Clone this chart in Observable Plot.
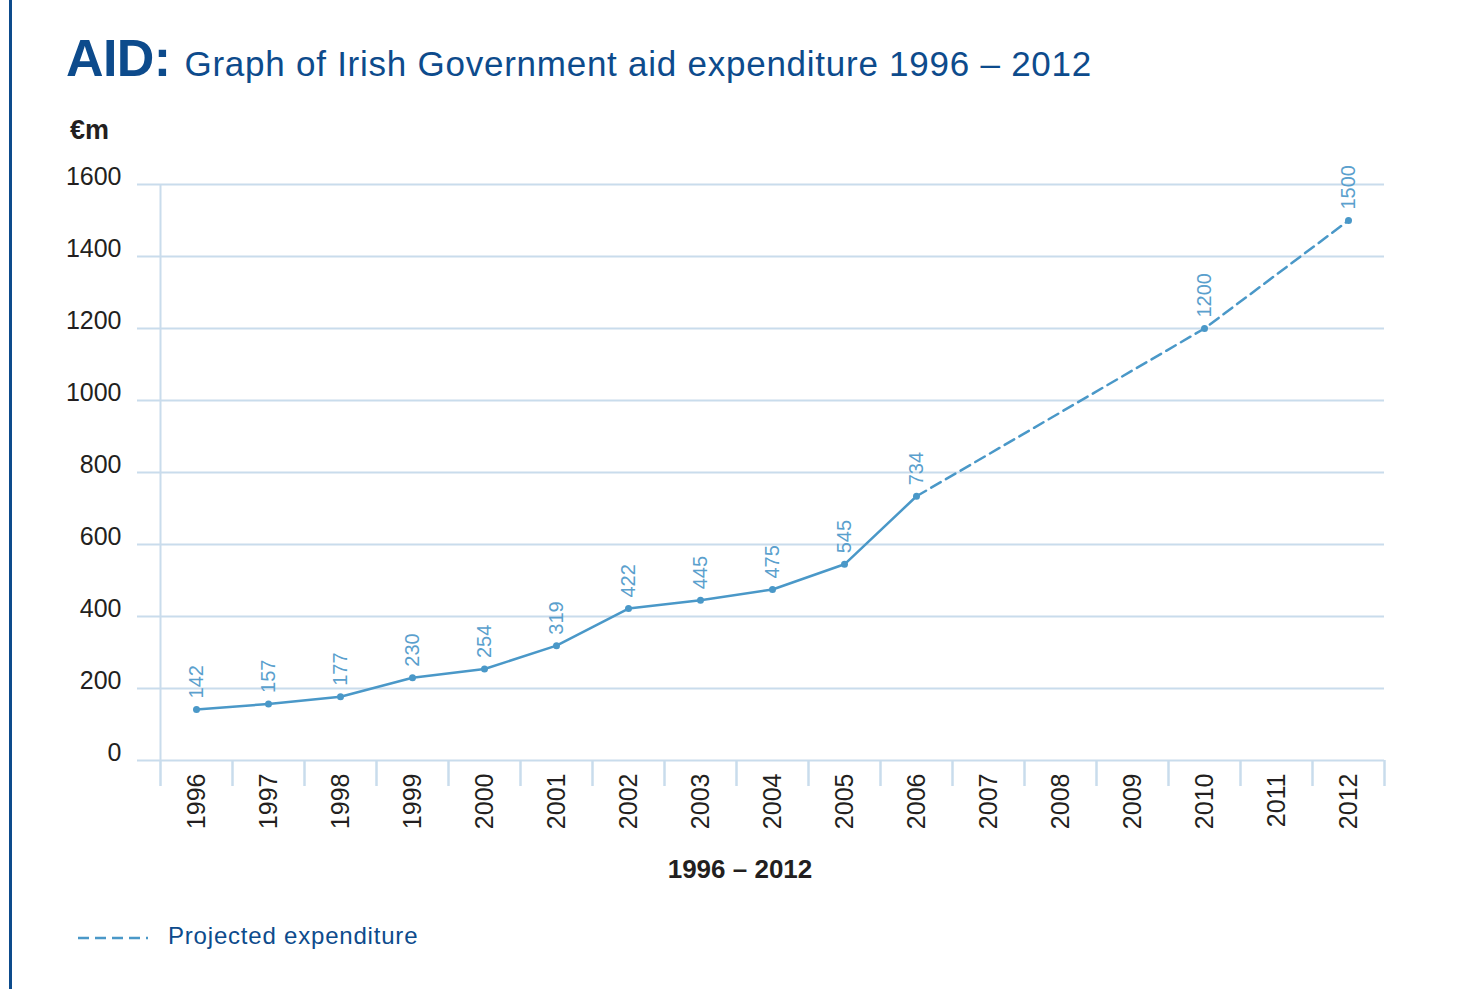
<!DOCTYPE html>
<html>
<head>
<meta charset="utf-8">
<script src="https://cdn.jsdelivr.net/npm/d3@7"></script>
<script src="https://cdn.jsdelivr.net/npm/@observablehq/plot@0.6"></script>
<style>
  html, body { margin: 0; padding: 0; background: #fff; }
  body { width: 1466px; height: 989px; position: relative; overflow: hidden; font-family: "Liberation Sans", Arial, sans-serif; }
  #border { position: absolute; left: 9px; top: 0; width: 2.5px; height: 989px; background: #0d4b8c; }
  #title { position: absolute; left: 66px; top: 28px; color: #0d4b8c; white-space: nowrap; }
  #title .big { font-weight: bold; font-size: 52px; letter-spacing: -0.6px; }
  #title .rest { font-size: 35px; letter-spacing: 0.75px; margin-left: 14px; }
  #unit { position: absolute; left: 70px; top: 115px; font-weight: bold; font-size: 27px; color: #231f20; }
  #chart { position: absolute; left: 0; top: 150px; }
  #xtitle { position: absolute; left: 0; width: 1480px; top: 854px; text-align: center; font-weight: bold; font-size: 26px; color: #231f20; }
  #legend { position: absolute; left: 78px; top: 922px; display: flex; align-items: center; }
  #legend span { font-size: 24px; letter-spacing: 0.8px; color: #0d4b8c; margin-left: 20px; }
</style>
</head>
<body>
<div id="border"></div>
<div id="title"><span class="big">AID:</span><span class="rest">Graph of Irish Government aid expenditure 1996 – 2012</span></div>
<div id="unit">€m</div>
<div id="chart"></div>
<div id="xtitle">1996 – 2012</div>
<div id="legend">
  <svg width="70" height="10"><line x1="0" y1="7" x2="70" y2="7" stroke="#4a98c8" stroke-width="2.5" stroke-dasharray="11,6"></line></svg>
  <span>Projected expenditure</span>
</div>
<script>
// Data
const axisYears = [1996,1997,1998,1999,2000,2001,2002,2003,2004,2005,2006,2007,2008,2009,2010,2011,2012];
const actualYears = [1996,1997,1998,1999,2000,2001,2002,2003,2004,2005,2006];
const actualValues = [142,157,177,230,254,319,422,445,475,545,734];
const projectedYears = [2006,2010,2012];
const projectedValues = [734,1200,1500];
const yTicks = [0,200,400,600,800,1000,1200,1400,1600];

const actual = actualYears.map((year, i) => ({year, value: actualValues[i]}));
const projected = projectedYears.map((year, i) => ({year, value: projectedValues[i]}));
const points = actual.concat(projected.slice(1));
const boundaries = axisYears.map(y => y - 0.5).concat([axisYears[axisYears.length - 1] + 0.5]);

const lineColor = "#4a98c8";
const gridColor = "#c9dcec";

const chart = Plot.plot({
  width: 1466,
  height: 750,
  marginTop: 34,
  marginBottom: 140,
  marginLeft: 137,
  marginRight: 82,
  style: {fontFamily: "'Liberation Sans', Arial, sans-serif", background: "transparent", overflow: "visible"},
  x: {type: "linear", domain: [boundaries[0] - 23 / 72, boundaries[boundaries.length - 1]]},
  y: {domain: [0, 1600]},
  marks: [
    Plot.gridY(yTicks, {stroke: gridColor, strokeOpacity: 1, strokeWidth: 2}),
    Plot.gridX([boundaries[0]], {stroke: gridColor, strokeOpacity: 1, strokeWidth: 2}),
    Plot.axisX(boundaries, {tickSize: 26, tickFormat: () => "", stroke: gridColor, strokeWidth: 2.5, strokeOpacity: 1, label: null}),
    Plot.axisX(axisYears, {tickSize: 0, tickPadding: 13, tickRotate: -90, tickFormat: d => String(d), fontSize: 25, fill: "#231f20", label: null}),
    Plot.axisY(yTicks, {tickSize: 0, tickPadding: 16, fontSize: 25, fill: "#231f20", dy: -8, label: null, tickFormat: d => String(d)}),
    Plot.line(actual, {x: "year", y: "value", stroke: lineColor, strokeWidth: 2.5}),
    Plot.line(projected, {x: "year", y: "value", stroke: lineColor, strokeWidth: 2.5, strokeDasharray: "11,6"}),
    Plot.dot(points, {x: "year", y: "value", r: 3.5, fill: lineColor}),
    Plot.text(points, {x: "year", y: "value", text: d => String(d.value), rotate: -90, textAnchor: "start", lineAnchor: "middle", dy: -11, fontSize: 20, fill: "#5aa0cd"})
  ]
});
document.getElementById("chart").appendChild(chart);
</script>
</body>
</html>
